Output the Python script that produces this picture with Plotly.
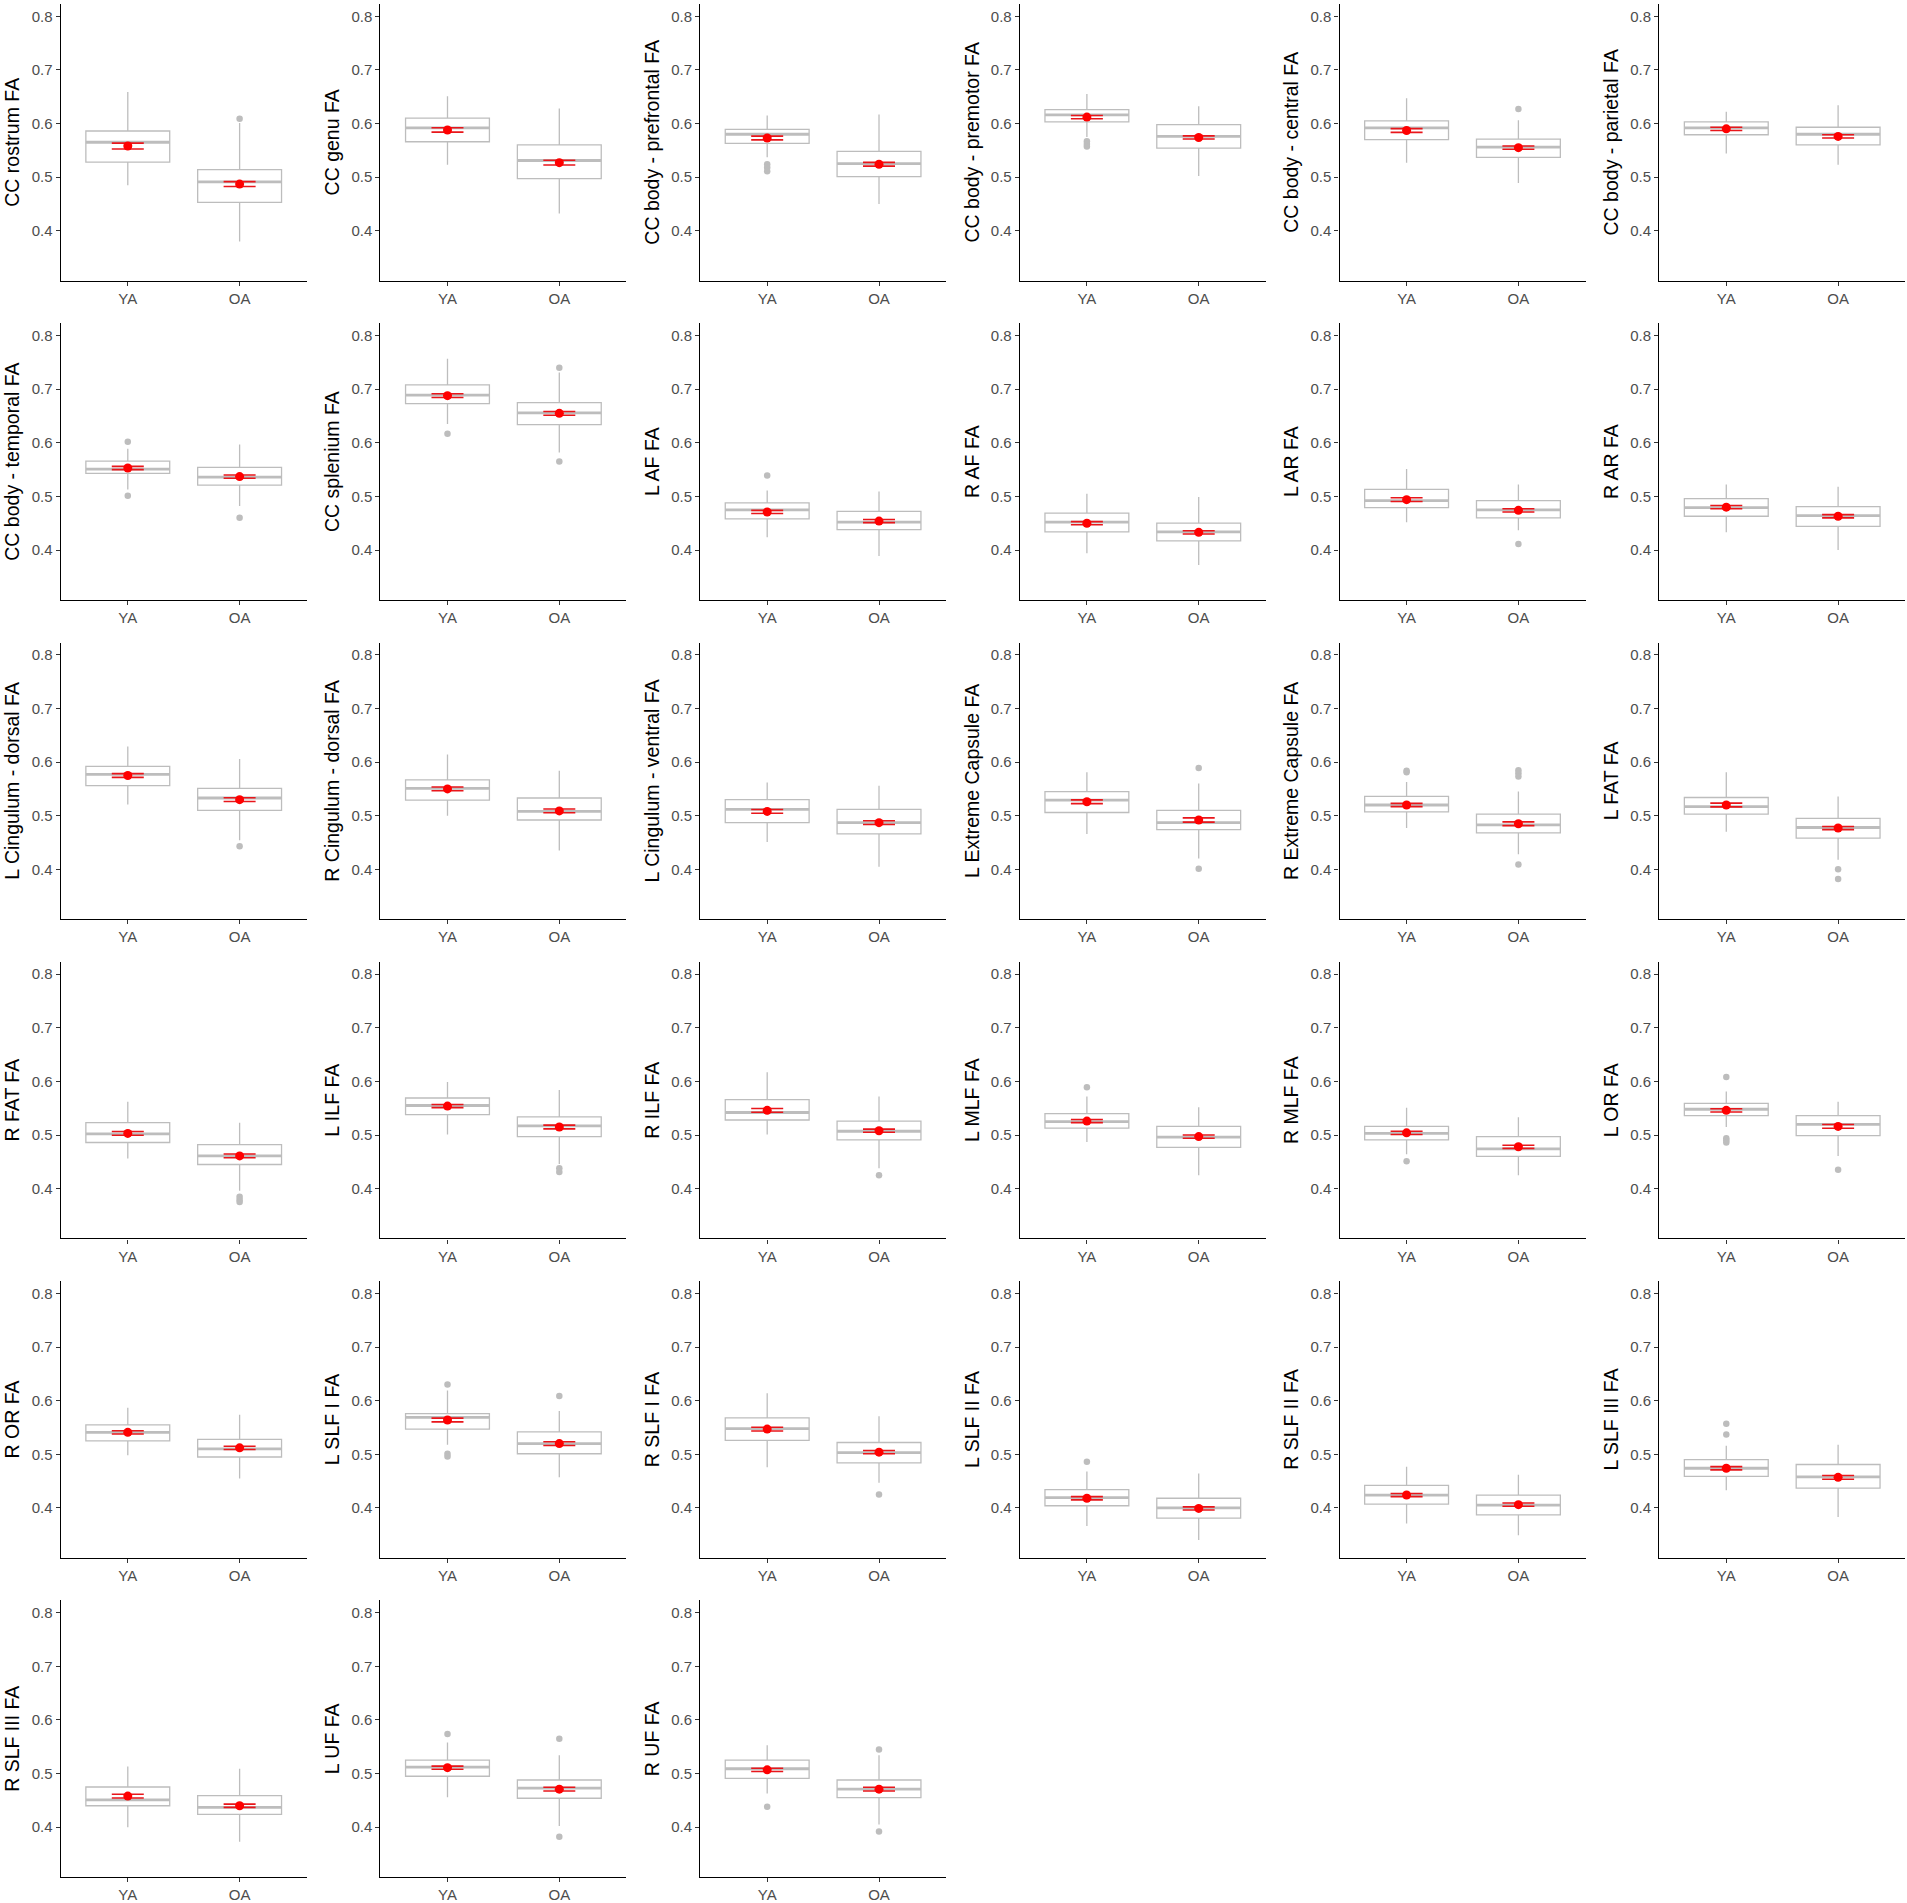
import plotly.graph_objects as go

# ---------------- data ----------------
PANELS = [
    "CC rostrum FA", "CC genu FA", "CC body - prefrontal FA", "CC body - premotor FA",
    "CC body - central FA", "CC body - parietal FA",
    "CC body - temporal FA", "CC splenium FA", "L AF FA", "R AF FA", "L AR FA", "R AR FA",
    "L Cingulum - dorsal FA", "R Cingulum - dorsal FA", "L Cingulum - ventral FA",
    "L Extreme Capsule FA", "R Extreme Capsule FA", "L FAT FA",
    "R FAT FA", "L ILF FA", "R ILF FA", "L MLF FA", "R MLF FA", "L OR FA",
    "R OR FA", "L SLF I FA", "R SLF I FA", "L SLF II FA", "R SLF II FA", "L SLF III FA",
    "R SLF III FA", "L UF FA", "R UF FA",
]
GROUPS = ["YA", "OA"]
Y_TICKS = [0.4, 0.5, 0.6, 0.7, 0.8]
Y_TICK_LABELS = ["0.4", "0.5", "0.6", "0.7", "0.8"]

YA_LOW = [0.485, 0.523, 0.537, 0.575, 0.527, 0.544, 0.513, 0.635, 0.424, 0.394, 0.452, 0.433,
          0.521, 0.500, 0.451, 0.466, 0.477, 0.470, 0.456, 0.501, 0.501, 0.487, 0.464, 0.515,
          0.498, 0.518, 0.476, 0.366, 0.371, 0.433, 0.400, 0.456, 0.463]
YA_Q1 = [0.528, 0.566, 0.563, 0.603, 0.570, 0.579, 0.543, 0.673, 0.458, 0.434, 0.479, 0.463,
         0.556, 0.529, 0.487, 0.506, 0.507, 0.503, 0.486, 0.538, 0.528, 0.513, 0.491, 0.536,
         0.525, 0.547, 0.526, 0.404, 0.407, 0.459, 0.440, 0.495, 0.491]
YA_MED = [0.565, 0.592, 0.580, 0.616, 0.592, 0.592, 0.551, 0.689, 0.475, 0.452, 0.492, 0.479,
          0.577, 0.551, 0.512, 0.529, 0.520, 0.517, 0.502, 0.555, 0.542, 0.525, 0.503, 0.548,
          0.541, 0.569, 0.548, 0.419, 0.424, 0.474, 0.451, 0.512, 0.509]
YA_Q3 = [0.586, 0.610, 0.589, 0.626, 0.605, 0.603, 0.566, 0.708, 0.488, 0.469, 0.513, 0.496,
         0.592, 0.567, 0.530, 0.545, 0.536, 0.534, 0.523, 0.569, 0.566, 0.540, 0.516, 0.559,
         0.555, 0.576, 0.568, 0.434, 0.442, 0.490, 0.475, 0.525, 0.525]
YA_HIGH = [0.659, 0.651, 0.615, 0.655, 0.647, 0.622, 0.589, 0.757, 0.511, 0.505, 0.551, 0.522,
           0.629, 0.614, 0.562, 0.581, 0.563, 0.581, 0.562, 0.599, 0.617, 0.572, 0.551, 0.581,
           0.587, 0.619, 0.614, 0.468, 0.477, 0.516, 0.513, 0.558, 0.553]
YA_MEAN = [0.558, 0.588, 0.573, 0.612, 0.587, 0.590, 0.553, 0.688, 0.471, 0.450, 0.494, 0.480,
           0.575, 0.550, 0.508, 0.526, 0.520, 0.520, 0.503, 0.554, 0.546, 0.526, 0.504, 0.546,
           0.541, 0.564, 0.547, 0.418, 0.424, 0.474, 0.458, 0.511, 0.507]
YA_SE = [0.0055, 0.0040, 0.0035, 0.0030, 0.0035, 0.0030, 0.0030, 0.0035, 0.0030, 0.0030, 0.0035, 0.0030,
         0.0035, 0.0035, 0.0035, 0.0035, 0.0030, 0.0035, 0.0035, 0.0030, 0.0035, 0.0030, 0.0030, 0.0030,
         0.0030, 0.0035, 0.0035, 0.0030, 0.0030, 0.0030, 0.0035, 0.0030, 0.0030]
YA_OUT = [[], [], [0.524, 0.518, 0.511], [0.567, 0.562, 0.557], [], [], [0.602, 0.501], [0.617],
          [0.539], [], [], [], [], [], [], [], [0.584, 0.581], [], [], [], [], [0.589], [0.451],
          [0.608, 0.494, 0.490, 0.486], [], [0.630, 0.501, 0.496], [], [0.486], [], [0.557, 0.537],
          [], [0.574], [0.438]]

OA_LOW = [0.380, 0.432, 0.450, 0.502, 0.489, 0.523, 0.482, 0.582, 0.389, 0.372, 0.437, 0.400,
          0.454, 0.435, 0.405, 0.420, 0.428, 0.418, 0.396, 0.446, 0.438, 0.425, 0.425, 0.461,
          0.455, 0.457, 0.447, 0.340, 0.349, 0.383, 0.373, 0.402, 0.405]
OA_Q1 = [0.453, 0.497, 0.501, 0.554, 0.537, 0.560, 0.521, 0.634, 0.438, 0.417, 0.460, 0.444,
         0.510, 0.492, 0.466, 0.474, 0.468, 0.458, 0.445, 0.497, 0.491, 0.477, 0.460, 0.499,
         0.495, 0.501, 0.484, 0.381, 0.387, 0.437, 0.424, 0.454, 0.455]
OA_MED = [0.491, 0.531, 0.525, 0.576, 0.556, 0.580, 0.536, 0.656, 0.452, 0.434, 0.475, 0.464,
          0.533, 0.508, 0.487, 0.487, 0.483, 0.478, 0.461, 0.517, 0.507, 0.496, 0.474, 0.520,
          0.510, 0.520, 0.503, 0.400, 0.405, 0.458, 0.437, 0.473, 0.471]
OA_Q3 = [0.514, 0.560, 0.548, 0.598, 0.571, 0.593, 0.554, 0.675, 0.472, 0.450, 0.492, 0.481,
         0.551, 0.533, 0.512, 0.510, 0.503, 0.495, 0.482, 0.534, 0.526, 0.516, 0.497, 0.536,
         0.528, 0.542, 0.522, 0.418, 0.424, 0.481, 0.459, 0.488, 0.488]
OA_HIGH = [0.601, 0.628, 0.617, 0.632, 0.606, 0.634, 0.597, 0.731, 0.509, 0.499, 0.522, 0.518,
           0.606, 0.584, 0.556, 0.560, 0.545, 0.536, 0.523, 0.584, 0.572, 0.552, 0.533, 0.562,
           0.574, 0.581, 0.571, 0.464, 0.462, 0.518, 0.509, 0.534, 0.534]
OA_MEAN = [0.487, 0.527, 0.524, 0.574, 0.555, 0.576, 0.537, 0.655, 0.454, 0.433, 0.474, 0.463,
           0.530, 0.509, 0.487, 0.492, 0.485, 0.477, 0.461, 0.515, 0.508, 0.497, 0.478, 0.516,
           0.512, 0.520, 0.504, 0.399, 0.406, 0.457, 0.440, 0.471, 0.471]
OA_SE = [0.0045, 0.0045, 0.0035, 0.0030, 0.0030, 0.0030, 0.0030, 0.0035, 0.0030, 0.0030, 0.0030, 0.0030,
         0.0035, 0.0035, 0.0035, 0.0040, 0.0035, 0.0030, 0.0035, 0.0035, 0.0030, 0.0030, 0.0030, 0.0035,
         0.0030, 0.0035, 0.0030, 0.0030, 0.0030, 0.0035, 0.0030, 0.0035, 0.0035]
OA_OUT = [[0.609], [], [], [], [0.627], [], [0.460], [0.740, 0.565], [], [], [0.411], [],
          [0.443], [], [], [0.589, 0.401], [0.585, 0.579, 0.573, 0.409], [0.400, 0.382],
          [0.385, 0.379, 0.375], [0.438, 0.431], [0.425], [], [], [0.435], [], [0.609], [0.425],
          [], [], [], [], [0.565, 0.382], [0.545, 0.392]]

# ---------------- styling / layout ----------------
W, H = 1907, 1903
NCOL = 6
COL_LEFT0, COL_STEP, PANEL_W = 60.7, 319.7, 246.0
ROW_TOP0, ROW_STEP, PANEL_H = 4.0, 319.8, 277.0
BOX_GREY = "#BDBDBD"
FONT = "Liberation Sans, Arial, Helvetica, sans-serif"

fig = go.Figure()
layout_axes = {}

for i, name in enumerate(PANELS):
    r, c = divmod(i, NCOL)
    suffix = "" if i == 0 else str(i + 1)
    xa, ya = "x" + suffix, "y" + suffix

    # box (IQR + whiskers)
    fig.add_trace(go.Box(
        x=GROUPS, q1=[YA_Q1[i], OA_Q1[i]], median=[YA_MED[i], OA_MED[i]],
        q3=[YA_Q3[i], OA_Q3[i]], lowerfence=[YA_LOW[i], OA_LOW[i]],
        upperfence=[YA_HIGH[i], OA_HIGH[i]],
        xaxis=xa, yaxis=ya, width=0.75, whiskerwidth=0,
        line=dict(color=BOX_GREY, width=1.3), fillcolor="white",
        boxpoints=False, hoverinfo="skip", showlegend=False))
    # thicker median line
    med = [YA_MED[i], OA_MED[i]]
    fig.add_trace(go.Box(
        x=GROUPS, q1=med, median=med, q3=med, lowerfence=med, upperfence=med,
        xaxis=xa, yaxis=ya, width=0.75, whiskerwidth=0,
        line=dict(color=BOX_GREY, width=2.8), fillcolor="rgba(0,0,0,0)",
        boxpoints=False, hoverinfo="skip", showlegend=False))
    # outliers
    ox = ["YA"] * len(YA_OUT[i]) + ["OA"] * len(OA_OUT[i])
    oy = YA_OUT[i] + OA_OUT[i]
    if oy:
        fig.add_trace(go.Scatter(
            x=ox, y=oy, mode="markers", xaxis=xa, yaxis=ya,
            marker=dict(color=BOX_GREY, size=6.5), hoverinfo="skip", showlegend=False))
    # mean +/- SE
    fig.add_trace(go.Scatter(
        x=GROUPS, y=[YA_MEAN[i], OA_MEAN[i]], mode="markers", xaxis=xa, yaxis=ya,
        marker=dict(color="#FF0000", size=9),
        error_y=dict(type="data", array=[YA_SE[i], OA_SE[i]], color="#E8161B",
                     thickness=1.6, width=16),
        hoverinfo="skip", showlegend=False))

    left = COL_LEFT0 + COL_STEP * c
    top = ROW_TOP0 + ROW_STEP * r
    xdom = [left / W, (left + PANEL_W) / W]
    ydom = [1 - (top + PANEL_H) / H, 1 - top / H]

    layout_axes["xaxis" + suffix] = dict(
        domain=xdom, anchor=ya, type="category", categoryorder="array",
        categoryarray=GROUPS, range=[-0.6, 1.6], showline=True, linecolor="black",
        linewidth=1.2, ticks="outside", ticklen=4, tickcolor="#333333", tickwidth=1,
        tickfont=dict(family=FONT, size=15, color="#4D4D4D"), showgrid=False,
        zeroline=False, fixedrange=True)
    layout_axes["yaxis" + suffix] = dict(
        domain=ydom, anchor=xa, range=[0.307, 0.823], tickmode="array",
        tickvals=Y_TICKS, ticktext=Y_TICK_LABELS, showline=True, linecolor="black",
        linewidth=1.2, ticks="outside", ticklen=4, tickcolor="#333333", tickwidth=1,
        tickfont=dict(family=FONT, size=15, color="#4D4D4D"), showgrid=False,
        zeroline=False, fixedrange=True,
        title=dict(text=name, font=dict(family=FONT, size=19.5, color="black"), standoff=6))

fig.update_layout(
    width=W, height=H, margin=dict(l=0, r=0, t=0, b=0),
    paper_bgcolor="white", plot_bgcolor="white", showlegend=False,
    font=dict(family=FONT), boxmode="overlay", **layout_axes)

fig.write_html(
    "out.html",
    config={"displayModeBar": False},
    post_script="document.body.style.margin='0px';document.body.style.overflow='hidden';")
